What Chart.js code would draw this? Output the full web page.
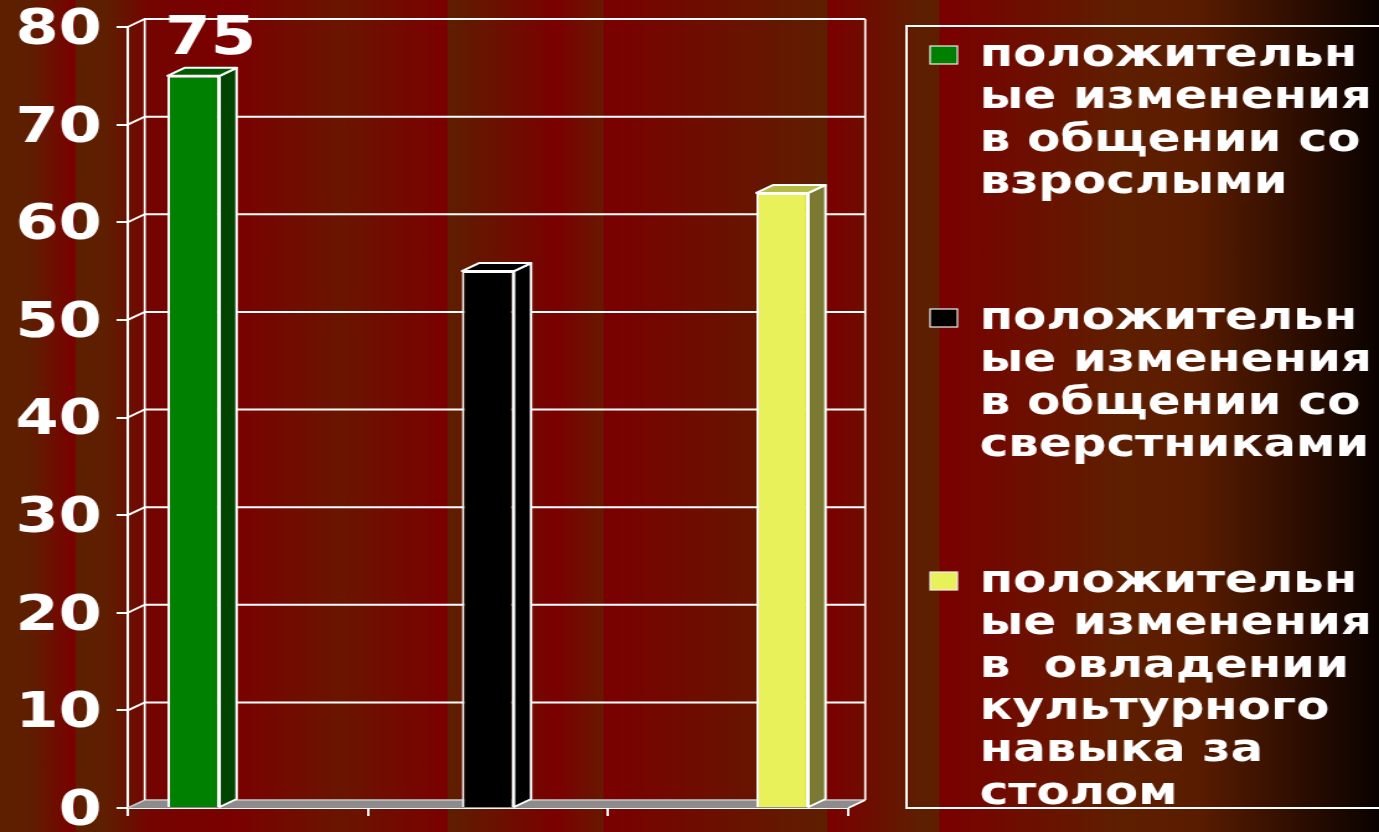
<!DOCTYPE html>
<html><head><meta charset="utf-8">
<script src="https://cdn.jsdelivr.net/npm/chart.js@4.4.1/dist/chart.umd.min.js"></script>
<style>
html,body{margin:0;padding:0;width:1379px;height:832px;overflow:hidden;}
body{background:linear-gradient(to right,
 #5e1e00 0px,#5e1e00 30px,#7a0000 75px,
 #5e1e00 76px,#5e1e00 105px,#740400 150px,#7a0000 230px,#6a1500 340px,#7a0000 447px,
 #5e1e00 448px,#7a0000 557px,#681800 603px,
 #7a0000 604px,#5e1e00 827px,
 #7a0000 828px,#5e1e00 920px,#5e1e00 939px,
 #7a0000 940px,#5e1e00 1120px,#5a1c00 1196px,#0a0200 1379px);}
#wrap{position:absolute;left:0;top:0;width:1112px;height:832px;transform:scaleX(1.24011);transform-origin:0 0;}
</style></head><body>
<div id="wrap"><canvas id="c" width="1112" height="832"></canvas></div>
<script>
// ---- data ----
const categories = [''];
const seriesNames = [
  'положительные изменения в общении со взрослыми',
  'положительные изменения в общении со сверстниками',
  'положительные изменения в  овладении культурного навыка за столом'
];
const legendLines = [
  ['положительн', 'ые изменения', 'в общении со', 'взрослыми'],
  ['положительн', 'ые изменения', 'в общении со', 'сверстниками'],
  ['положительн', 'ые изменения', 'в  овладении', 'культурного', 'навыка за', 'столом']
];
const values = [75, 55, 63];
const valueLabelShown = [true, false, false];
const yTickRange = [0, 80];
const yTickStep = 10;
const xTickLabels = ['', '', '', ''];

// ---- styles ----
const frontColors = ['#008000', '#000000', '#e8f05a'];
const sideColors  = ['#004400', '#000000', '#7a7a32'];
const topColors   = ['#005c00', '#000000', '#b4bc44'];
const DX = 13.7, DY = -8;
const FONT = '"DejaVu Sans", "Liberation Sans", sans-serif';

const wallPlugin = {
  id: 'wall',
  beforeDatasetsDraw(chart) {
    const {ctx, chartArea: {left, right, top, bottom}} = chart;
    const ys = chart.scales.y;
    ctx.save();
    ctx.fillStyle = '#8c8c8c';
    ctx.beginPath();
    ctx.moveTo(left, bottom); ctx.lineTo(left + DX, bottom + DY);
    ctx.lineTo(right + DX, bottom + DY); ctx.lineTo(right, bottom);
    ctx.closePath(); ctx.fill();
    ys.ticks.forEach(t => {
      const py = ys.getPixelForValue(t.value);
      ctx.strokeStyle = t.value === 0 ? '#c8c8c8' : '#ffffff';
      ctx.lineWidth = t.value === 0 ? 1.5 : 2;
      ctx.beginPath();
      ctx.moveTo(left, py); ctx.lineTo(left + DX, py + DY); ctx.lineTo(right + DX, py + DY);
      ctx.stroke();
    });
    ctx.strokeStyle = '#ffffff'; ctx.lineWidth = 1.7;
    ctx.beginPath();
    ctx.moveTo(left + DX, top + DY); ctx.lineTo(left + DX, bottom + DY);
    ctx.moveTo(right + DX, top + DY); ctx.lineTo(right + DX, bottom + DY);
    ctx.moveTo(right, bottom); ctx.lineTo(right + DX, bottom + DY);
    ctx.stroke();
    ctx.restore();
  }
};

const depthPlugin = {
  id: 'depth',
  afterDatasetsDraw(chart) {
    const ctx = chart.ctx;
    ctx.save();
    ctx.lineWidth = 2; ctx.strokeStyle = '#ffffff'; ctx.lineJoin = 'round';
    chart.data.datasets.forEach((ds, i) => {
      const meta = chart.getDatasetMeta(i);
      meta.data.forEach(el => {
        const {x, y, base, width} = el.getProps(['x', 'y', 'base', 'width'], true);
        const l = x - width / 2, r = x + width / 2;
        ctx.fillStyle = sideColors[i];
        ctx.beginPath();
        ctx.moveTo(r, y); ctx.lineTo(r + DX, y + DY); ctx.lineTo(r + DX, base + DY); ctx.lineTo(r, base);
        ctx.closePath(); ctx.fill(); ctx.stroke();
        ctx.fillStyle = topColors[i];
        ctx.beginPath();
        ctx.moveTo(l, y); ctx.lineTo(l + DX, y + DY); ctx.lineTo(r + DX, y + DY); ctx.lineTo(r, y);
        ctx.closePath(); ctx.fill(); ctx.stroke();
        if (valueLabelShown[i]) {
          ctx.fillStyle = '#ffffff';
          ctx.font = 'bold 53px ' + FONT;
          ctx.textAlign = 'center'; ctx.textBaseline = 'alphabetic';
          ctx.fillText(String(ds.data[0]), x + DX, y + DY - 14);
        }
      });
    });
    ctx.restore();
  }
};

const legendPlugin = {
  id: 'legendBox',
  afterDraw(chart) {
    const ctx = chart.ctx;
    ctx.save();
    ctx.strokeStyle = '#ffffff'; ctx.lineWidth = 2;
    ctx.strokeRect(731, 26, 420, 782);
    const blockTop = [55, 318, 581];
    const lh = 42.3;
    ctx.font = 'bold 39px ' + FONT;
    ctx.textAlign = 'left'; ctx.textBaseline = 'alphabetic';
    legendLines.forEach((lines, i) => {
      const y0 = blockTop[i];
      ctx.fillStyle = frontColors[i];
      ctx.fillRect(750, y0 - 9, 22, 18);
      ctx.strokeStyle = '#f0f0f0'; ctx.lineWidth = 1.2;
      ctx.strokeRect(750, y0 - 9, 22, 18);
      ctx.fillStyle = '#ffffff';
      lines.forEach((t, j) => ctx.fillText(t, 790, y0 + j * lh + 11));
    });
    ctx.restore();
  }
};

new Chart(document.getElementById('c'), {
  type: 'bar',
  data: {
    labels: categories,
    datasets: values.map((v, i) => ({
      label: seriesNames[i],
      data: [v],
      xAxisID: 'x', yAxisID: 'y',
      backgroundColor: frontColors[i],
      borderColor: '#ffffff',
      borderWidth: 2,
      categoryPercentage: 1.226,
      barPercentage: 0.177
    }))
  },
  options: {
    responsive: false,
    animation: false,
    events: [],
    layout: {padding: {left: 0, top: 27, right: 428, bottom: 0}},
    plugins: {legend: {display: false}, tooltip: {enabled: false}},
    scales: {
      x: {type: 'category', display: false, offset: true},
      x2: {
        type: 'category', position: 'bottom', labels: xTickLabels, offset: false,
        ticks: {display: false, autoSkip: false},
        grid: {drawOnChartArea: false, color: '#ffffff', lineWidth: 2, tickLength: 8, offset: false},
        border: {color: '#ffffff', width: 2},
        afterFit(s) { s.height = 24; s.paddingLeft = 0; s.paddingRight = 0; }
      },
      y: {
        min: yTickRange[0], max: yTickRange[1],
        ticks: {stepSize: yTickStep, color: '#ffffff', padding: 12, labelOffset: 4,
                font: {family: FONT, weight: 'bold', size: 50, lineHeight: 0.9}},
        grid: {drawOnChartArea: false, color: '#ffffff', lineWidth: 2, tickLength: 9},
        border: {color: '#ffffff', width: 2},
        afterFit(s) { s.width = 103; s.paddingTop = 0; s.paddingBottom = 0; }
      }
    }
  },
  plugins: [wallPlugin, depthPlugin, legendPlugin]
});
</script>
</body></html>
